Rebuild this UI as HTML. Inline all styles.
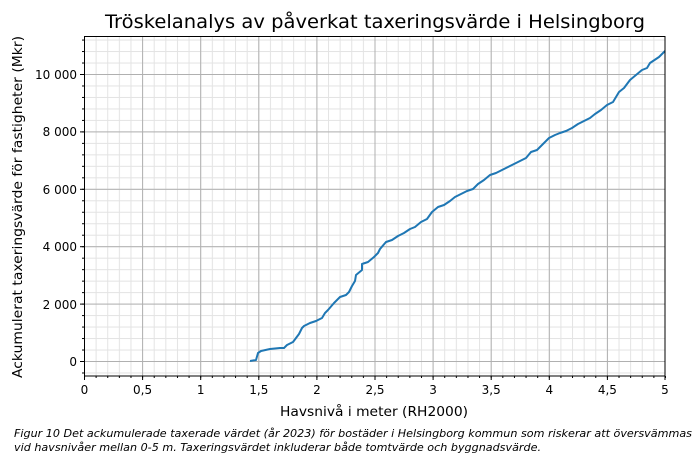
<!DOCTYPE html>
<html><head><meta charset="utf-8"><style>
body{margin:0;background:#fff}
svg{display:block;font-family:"DejaVu Sans","Liberation Sans",sans-serif}
</style></head><body>
<svg width="700" height="459" xmlns="http://www.w3.org/2000/svg">
<defs>
<pattern id="mx" patternUnits="userSpaceOnUse" x="84" y="0" width="11.62" height="459"><line x1="0.5" y1="0" x2="0.5" y2="459" stroke="#e3e3e3" stroke-width="1"/></pattern>
<pattern id="my" patternUnits="userSpaceOnUse" x="0" y="361" width="700" height="11.48"><line x1="0" y1="0.5" x2="700" y2="0.5" stroke="#e3e3e3" stroke-width="1"/></pattern>
<pattern id="Mx" patternUnits="userSpaceOnUse" x="84" y="0" width="58.1" height="459"><line x1="0.5" y1="0" x2="0.5" y2="459" stroke="#b0b0b0" stroke-width="1"/></pattern>
<pattern id="My" patternUnits="userSpaceOnUse" x="0" y="361" width="700" height="57.4"><line x1="0" y1="0.5" x2="700" y2="0.5" stroke="#b0b0b0" stroke-width="1"/></pattern>
<pattern id="tx" patternUnits="userSpaceOnUse" x="84" y="0" width="11.62" height="459"><line x1="0.5" y1="0" x2="0.5" y2="459" stroke="#000" stroke-width="1"/></pattern>
<pattern id="ty" patternUnits="userSpaceOnUse" x="0" y="361" width="700" height="11.48"><line x1="0" y1="0.5" x2="700" y2="0.5" stroke="#000" stroke-width="1"/></pattern>
</defs>
<rect x="84" y="36" width="581" height="340" fill="url(#mx)"/>
<rect x="84" y="36" width="581" height="340" fill="url(#my)"/>
<rect x="84" y="36" width="581" height="340" fill="url(#Mx)"/>
<rect x="84" y="36" width="581" height="340" fill="url(#My)"/>
<rect x="84" y="376" width="582" height="2" fill="url(#tx)"/>
<rect x="82" y="36" width="2" height="340" fill="url(#ty)"/>
<g stroke="#000" stroke-width="1">
<line x1="84.5" y1="376" x2="84.5" y2="380"/><line x1="142.6" y1="376" x2="142.6" y2="380"/><line x1="200.7" y1="376" x2="200.7" y2="380"/><line x1="258.8" y1="376" x2="258.8" y2="380"/><line x1="316.9" y1="376" x2="316.9" y2="380"/><line x1="375" y1="376" x2="375" y2="380"/><line x1="433.1" y1="376" x2="433.1" y2="380"/><line x1="491.2" y1="376" x2="491.2" y2="380"/><line x1="549.3" y1="376" x2="549.3" y2="380"/><line x1="607.4" y1="376" x2="607.4" y2="380"/><line x1="665" y1="376" x2="665" y2="380"/>
<line x1="80" y1="361.5" x2="84" y2="361.5"/><line x1="80" y1="304.1" x2="84" y2="304.1"/><line x1="80" y1="246.7" x2="84" y2="246.7"/><line x1="80" y1="189.3" x2="84" y2="189.3"/><line x1="80" y1="131.9" x2="84" y2="131.9"/><line x1="80" y1="74.5" x2="84" y2="74.5"/>
</g>
<polyline fill="none" stroke="#1f77b4" stroke-width="2" stroke-linejoin="round" points="250,361 256,360 258,353 261,351 270,349 280,348 284,348 287,345 293,342 296,338 299,334 302,328 304,326 310,323 316,321 322,318 325,313 328,310 334,303 340,297 346,295 349,292 352,286 355,281 356,275 362,270 362,264 368,262 374,257 378,253 380,249 386,242 392,240 398,236 404,233 410,229 415,227 421,222 427,219 432,212 438,207 444,205 450,201 455,197 461,194 467,191 473,189 478,184 484,180 490,175 496,173 502,170 508,167 514,164 520,161 526,158 531,152 537,150 543,144 549,138 555,135 560,133 566,131 572,128 578,124 584,121 590,118 595,114 601,110 607,105 613,102 616,97 619,92 624,88 630,80 636,75 642,70 647,68 650,63 653,61 659,57 665,51"/>
<rect x="84.5" y="36.5" width="580.5" height="339.5" fill="none" stroke="#000" stroke-width="1"/>
<g font-size="12" fill="#000" text-anchor="middle">
<text x="84.5" y="394">0</text><text x="142.6" y="394">0,5</text><text x="200.7" y="394">1</text><text x="258.8" y="394">1,5</text><text x="316.9" y="394">2</text><text x="375" y="394">2,5</text><text x="433.1" y="394">3</text><text x="491.2" y="394">3,5</text><text x="549.3" y="394">4</text><text x="607.4" y="394">4,5</text><text x="665" y="394">5</text>
</g>
<g font-size="12" fill="#000" text-anchor="end">
<text x="77" y="366">0</text><text x="77" y="309">2 000</text><text x="77" y="251">4 000</text><text x="77" y="194">6 000</text><text x="77" y="136">8 000</text><text x="77" y="79">10 000</text>
</g>
<text x="280" y="416" font-size="13.5" textLength="188" lengthAdjust="spacingAndGlyphs">Havsnivå i meter (RH2000)</text>
<text transform="translate(22,378) rotate(-90)" font-size="13.5" textLength="342" lengthAdjust="spacingAndGlyphs">Ackumulerat taxeringsvärde för fastigheter (Mkr)</text>
<text x="105" y="28" font-size="19" textLength="540" lengthAdjust="spacingAndGlyphs">Tröskelanalys av påverkat taxeringsvärde i Helsingborg</text>
<g font-size="10.5" font-style="italic" fill="#000">
<text x="14" y="437" textLength="678" lengthAdjust="spacingAndGlyphs">Figur 10 Det ackumulerade taxerade värdet (år 2023) för bostäder i Helsingborg kommun som riskerar att översvämmas</text>
<text x="14" y="451" textLength="527" lengthAdjust="spacingAndGlyphs">vid havsnivåer mellan 0-5 m. Taxeringsvärdet inkluderar både tomtvärde och byggnadsvärde.</text>
</g>
</svg>
</body></html>
